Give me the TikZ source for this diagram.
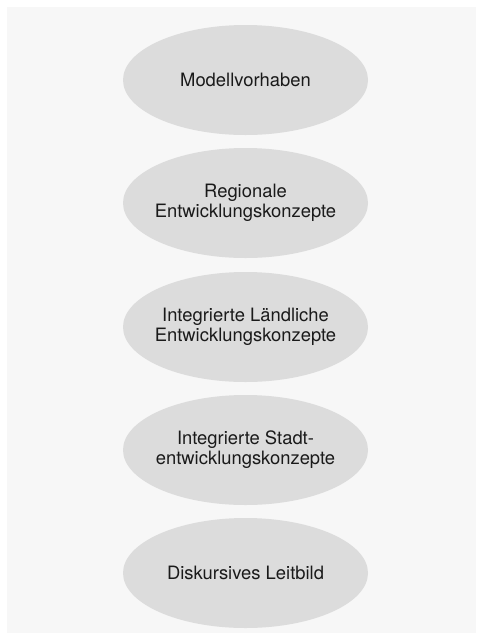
\documentclass[tikz,border=0pt]{standalone}
\usepackage{fontspec}
\setmainfont{TeX Gyre Heros}
\usetikzlibrary{shapes.geometric}
\definecolor{bgcol}{HTML}{F7F7F7}
\definecolor{ellcol}{HTML}{DCDCDC}
\definecolor{txtcol}{HTML}{1A1A1A}
\begin{document}
\begin{tikzpicture}[x=1pt,y=-1pt,
  ellbox/.style={ellipse, fill=ellcol, draw=none, minimum width=245pt, minimum height=110pt, inner sep=0pt},
  txtbox/.style={align=center, text=txtcol, inner sep=0pt, font=\fontsize{18.4pt}{20pt}\selectfont}]
\useasboundingbox (0,0) rectangle (477,643);
\fill[white] (0,0) rectangle (477,643);
\fill[bgcol] (7,7) rectangle (476,633);
\node[ellbox] (e1) at (245.5,80) {};
\node[ellbox] (e2) at (245.5,203) {};
\node[ellbox] (e3) at (245.5,327) {};
\node[ellbox] (e4) at (245.5,450) {};
\node[ellbox] (e5) at (245.5,573) {};
\node[txtbox] (t1) at (e1) {Modellvorhaben};
\node[txtbox] (t2) at (e2) {Regionale\\Entwicklungskonzepte};
\node[txtbox] (t3) at (e3) {Integrierte Ländliche\\Entwicklungskonzepte};
\node[txtbox] (t4) at (e4) {Integrierte Stadt-\\entwicklungskonzepte};
\node[txtbox] (t5) at (e5) {Diskursives Leitbild};
\end{tikzpicture}
\end{document}
